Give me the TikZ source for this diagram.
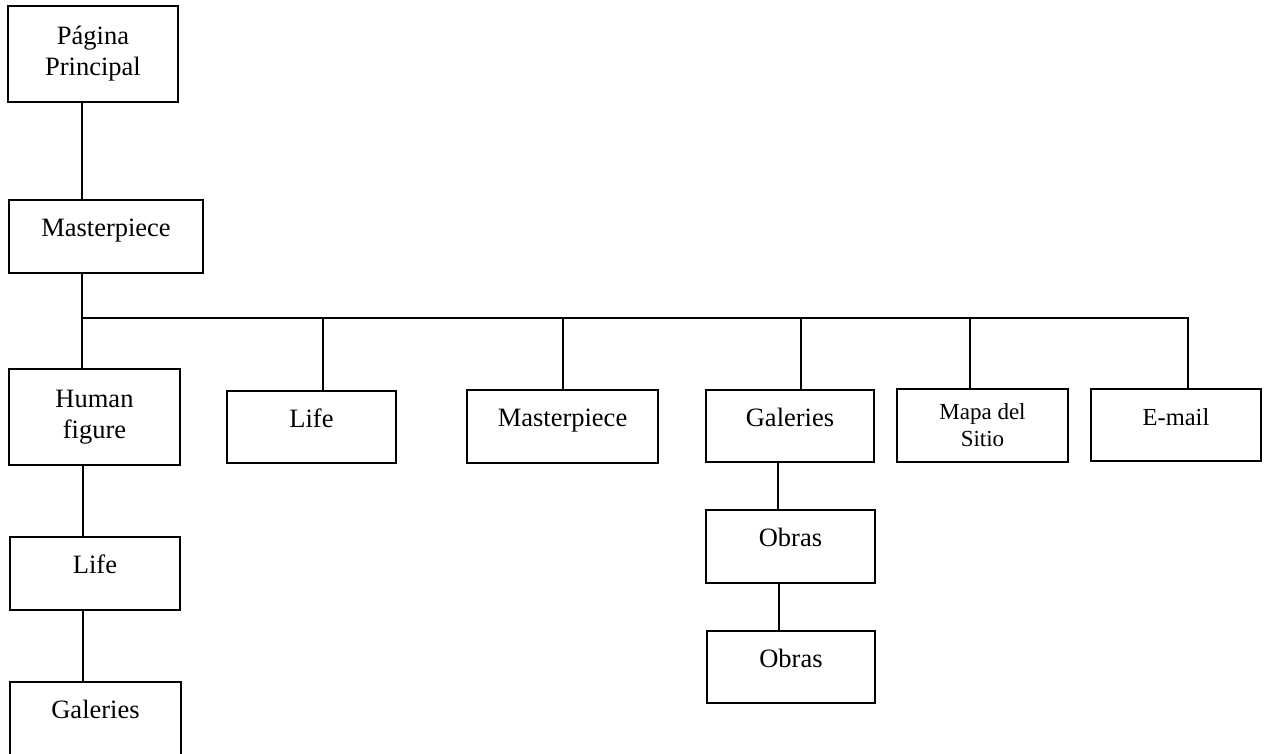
\documentclass[tikz,border=0pt]{standalone}
\usepackage{fontspec}
\setmainfont{Liberation Serif}
\usetikzlibrary{positioning,calc}
\tikzset{
    page/.style = {
        draw,
        line width=1.4pt,
        inner sep=0pt,
        align=center,
        font=\fontsize{26.5}{31}\selectfont,
        },
    one line/.style = {
        text height=14pt,
        text depth=14pt,
        },
    link/.style = {
        line width=1.4pt,
        },
}

\begin{document}
\begin{tikzpicture}[x=1pt, y=-1pt]
            \useasboundingbox (0,0) rectangle (1270,754);

            \node[page, minimum width=170pt, minimum height=96pt] (pp) at (93,54) {Página\\Principal};
            \node[page, one line, minimum width=194pt, minimum height=73pt] (ms) at (106,236.5) {Masterpiece};

            % left column
            \node[page, minimum width=171pt, minimum height=96pt] (hf) at (94.5,417) {Human\\figure};
            \node[page, one line, minimum width=170pt, minimum height=73pt] (life1) at (95,573.5) {Life};
            \node[page, one line, minimum width=171pt, minimum height=73pt] (gal1) at (95.5,718.5) {Galeries};

            % second row
            \node[page, one line, minimum width=169pt, minimum height=72pt] (life) at (311.5,427) {Life};
            \node[page, one line, minimum width=191pt, minimum height=73pt] (mast) at (562.5,426.5) {Masterpiece};
            \node[page, one line, minimum width=168pt, minimum height=72pt] (gal) at (790,426) {Galeries};
            \node[page, minimum width=171pt, minimum height=73pt, font=\fontsize{23}{27}\selectfont] (map) at (982.5,425.5) {Mapa del\\Sitio};
            \node[page, one line, minimum width=170pt, minimum height=72pt, font=\fontsize{24.5}{29}\selectfont] (em) at (1176,425) {E-mail};

            % obras
            \node[page, one line, minimum width=169pt, minimum height=73pt] (ob1) at (790.5,546.5) {Obras};
            \node[page, one line, minimum width=168pt, minimum height=72pt] (ob2) at (791,667) {Obras};

            \coordinate (bus) at (82,318);
            \coordinate (busend) at (1188,318);

            \draw[link] (pp.south -| bus) -- (ms.north -| bus);
            \draw[link] (ms.south -| bus) -- (bus) -- (busend) -- (em.north -| busend);
            \draw[link] (bus) -- (hf.north -| bus);
            \draw[link] ([xshift=11.5pt]life.north) -- ([xshift=11.5pt]life.north |- bus);
            \draw[link] ([xshift=0.5pt]mast.north) -- ([xshift=0.5pt]mast.north |- bus);
            \draw[link] ([xshift=11pt]gal.north) -- ([xshift=11pt]gal.north |- bus);
            \draw[link] ([xshift=-12.5pt]map.north) -- ([xshift=-12.5pt]map.north |- bus);

            \draw[link] ([xshift=-11.5pt]hf.south) -- ([xshift=-11.5pt]hf.south |- life1.north);
            \draw[link] ([xshift=-12pt]life1.south) -- ([xshift=-12pt]life1.south |- gal1.north);
            \draw[link] ([xshift=-12pt]gal.south) -- ([xshift=-12pt]gal.south |- ob1.north);
            \draw[link] ([xshift=-11.5pt]ob1.south) -- ([xshift=-11.5pt]ob1.south |- ob2.north);
        \end{tikzpicture}
\end{document}
